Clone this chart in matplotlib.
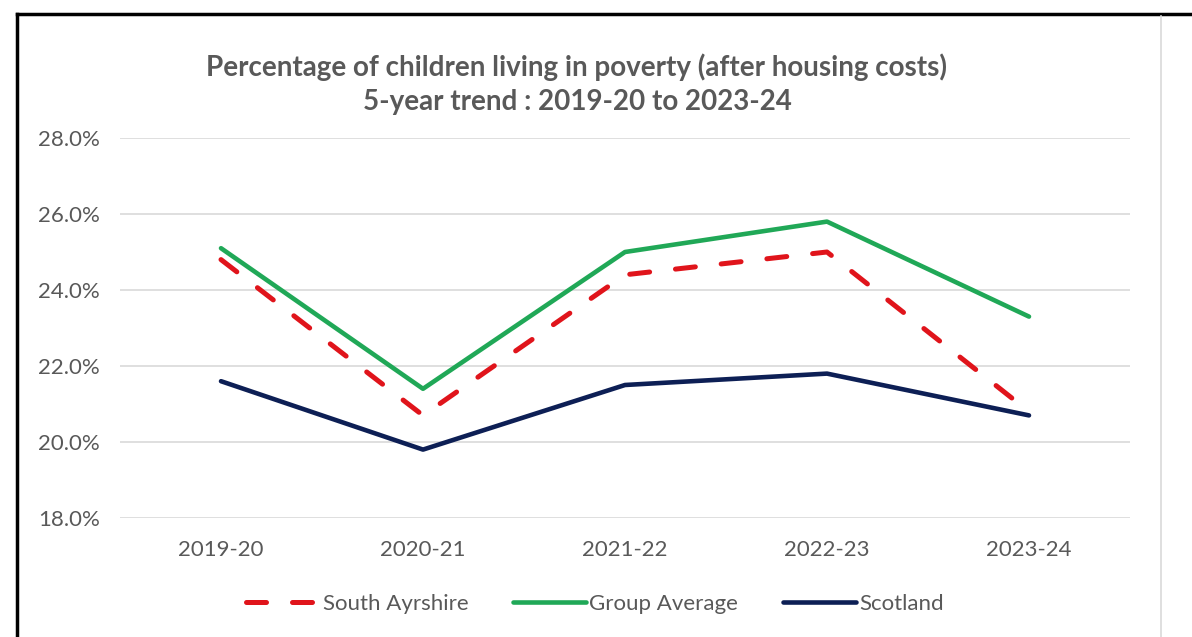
import matplotlib.pyplot as plt
from matplotlib.lines import Line2D

# data
years = ["2019-20", "2020-21", "2021-22", "2022-23", "2023-24"]
south_ayrshire = [24.8, 20.7, 24.4, 25.0, 20.8]
group_average = [25.1, 21.4, 25.0, 25.8, 23.3]
scotland = [21.6, 19.8, 21.5, 21.8, 20.7]
y_ticks = [18, 20, 22, 24, 26, 28]

TEXT = "#595959"
plt.rcParams['font.family'] = ['Lato', 'DejaVu Sans']

W, H = 1192, 637
fig = plt.figure(figsize=(W / 100, H / 100), dpi=100)
ax = fig.add_axes([120 / W, 1 - 518 / H, 1010 / W, 380 / H])

x = list(range(len(years)))
ax.plot(x, south_ayrshire, color="#E0141B", lw=3.6, linestyle=(0, (4.0, 5.2)),
        dash_capstyle="round", solid_joinstyle="round", label="South Ayrshire", zorder=3)
ax.plot(x, group_average, color="#20A857", lw=3.3, solid_joinstyle="round",
        solid_capstyle="round", label="Group Average", zorder=3)
ax.plot(x, scotland, color="#0D1F55", lw=3.3, solid_joinstyle="round",
        solid_capstyle="round", label="Scotland", zorder=3)

ax.set_xlim(-0.5, len(years) - 0.5)
ax.set_ylim(18, 28)
ax.set_xticks(x)
ax.set_xticklabels(years)
ax.set_yticks(y_ticks)
ax.set_yticklabels([f"{v:.1f}%" for v in y_ticks])
ax.tick_params(length=0, labelsize=16, labelcolor=TEXT)
ax.tick_params(axis="y", pad=14.5)
ax.tick_params(axis="x", pad=16)
ax.grid(axis="y", color="#D9D9D9", lw=1.2)
ax.set_axisbelow(True)
for s in ax.spines.values():
    s.set_visible(False)

# title
fig.text(577 / W, 1 - 67 / H, "Percentage of children living in poverty (after housing costs)",
         ha="center", va="center", fontsize=20, fontweight="bold", color=TEXT)
fig.text(577 / W, 1 - 102 / H, "5-year trend : 2019-20 to 2023-24",
         ha="center", va="center", fontsize=20, fontweight="bold", color=TEXT)

# legend
handles, labels = ax.get_legend_handles_labels()
leg = fig.legend(handles, labels, loc="center", bbox_to_anchor=(595 / W, 1 - 604 / H),
                 ncol=3, frameon=False, fontsize=16, handlelength=3.3,
                 handletextpad=0.15, columnspacing=2.0)
for t in leg.get_texts():
    t.set_color(TEXT)

# screenshot frame
fig.add_artist(Line2D([17 / W, 1], [1 - 14 / H, 1 - 14 / H], color="black", lw=2.5))
fig.add_artist(Line2D([17 / W, 17 / W], [0, 1 - 14 / H], color="black", lw=2.5))
fig.add_artist(Line2D([1161 / W, 1161 / W], [0, 1 - 16 / H], color="#D9D9D9", lw=1.2))

fig.savefig("out.png", dpi=100)
